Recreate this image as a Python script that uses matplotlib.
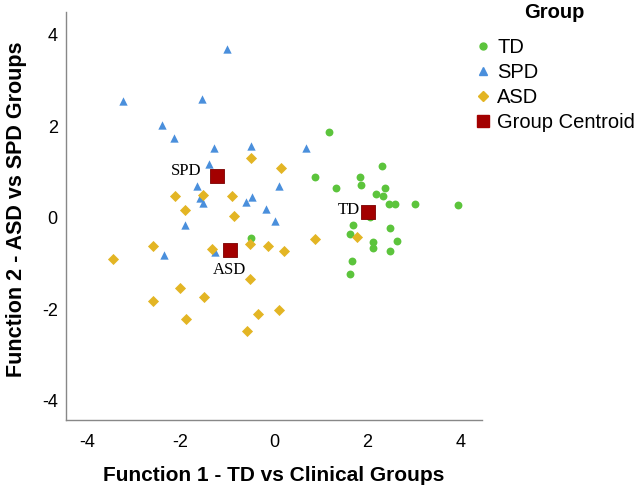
import numpy as np
import matplotlib
matplotlib.use('Agg')
import matplotlib.pyplot as plt
from matplotlib.lines import Line2D

# discriminant function scores
td_x = [1.18, 2.31, 0.87, 1.83, 1.87, 1.33, 2.37, 2.18, 2.34, 2.45, 2.59, 3.02,
        3.93, 2.06, 1.69, 2.48, 1.62, 2.12, 2.11, 2.63, 2.48, 1.66, 1.63, -0.49]
td_y = [1.87, 1.12, 0.88, 0.88, 0.72, 0.64, 0.65, 0.52, 0.47, 0.29, 0.29, 0.29,
        0.27, 0.02, -0.17, -0.23, -0.35, -0.54, -0.66, -0.52, -0.73, -0.95, -1.24, -0.45]

spd_x = [-1.01, -3.22, -1.54, -2.40, -2.13, -1.29, -0.50, -1.38, -1.65, 0.10,
         -1.51, -0.47, -0.60, -0.18, 0.02, -1.90, -2.36, -1.26, 0.68, -1.58]
spd_y = [3.68, 2.54, 2.60, 2.02, 1.74, 1.53, 1.57, 1.18, 0.70, 0.70,
         0.31, 0.45, 0.34, 0.19, -0.07, -0.17, -0.82, -0.75, 1.53, 0.42]

asd_x = [-0.50, 0.16, -2.11, -1.51, -0.90, -1.90, -0.85, -2.59, -3.44, -1.33, -0.52, -0.12,
         0.21, 0.88, 1.77, 0.10, -0.52, -2.02, -1.49, -2.58, -1.88, -0.35, -0.58]
asd_y = [1.31, 1.08, 0.47, 0.49, 0.47, 0.17, 0.04, -0.61, -0.91, -0.69, -0.57, -0.61,
         -0.73, -0.47, -0.42, -2.02, -1.34, -1.53, -1.74, -1.82, -2.22, -2.11, -2.47]

centroid_names = ['SPD', 'TD', 'ASD']
centroid_x = [-1.22, 2.01, -0.95]
centroid_y = [0.90, 0.13, -0.71]

c_td = '#5cc43c'
c_spd = '#4a8fdc'
c_asd = '#e3b524'
c_cen = '#a30000'

plt.rcParams['font.family'] = ['Liberation Sans', 'DejaVu Sans']
plt.rcParams['axes.unicode_minus'] = False

fig = plt.figure(figsize=(6.38, 4.92), dpi=100)
ax = fig.add_axes([0.1034, 0.1463, 0.6521, 0.83])

ax.scatter(td_x, td_y, s=32, marker='o', color=c_td, linewidths=0, zorder=3)
ax.scatter(spd_x, spd_y, s=36, marker='^', color=c_spd, linewidths=0, zorder=3)
ax.scatter(asd_x, asd_y, s=32, marker='D', color=c_asd, linewidths=0, zorder=3)
ax.scatter(centroid_x, centroid_y, s=110, marker='s', color=c_cen,
           edgecolors='#7a0000', linewidths=0.6, zorder=4)

# centroid labels (offsets in points)
offsets = {'SPD': (-11, 4, 'right', 'center'),
           'TD': (-6, 1, 'right', 'center'),
           'ASD': (0, -14, 'center', 'center')}
for name, cx, cy in zip(centroid_names, centroid_x, centroid_y):
    dx, dy, ha, va = offsets[name]
    ax.annotate(name, (cx, cy), xytext=(dx, dy), textcoords='offset points',
                ha=ha, va=va, fontsize=12, family='Liberation Serif', zorder=5)

ax.set_xlim(-4.45, 4.45)
ax.set_ylim(-4.42, 4.5)
ax.set_xticks([-4, -2, 0, 2, 4])
ax.set_yticks([-4, -2, 0, 2, 4])
ax.tick_params(axis='x', length=0, labelsize=13, pad=10)
ax.tick_params(axis='y', length=0, labelsize=13, pad=6)
for side in ['top', 'right']:
    ax.spines[side].set_visible(False)
for side in ['left', 'bottom']:
    ax.spines[side].set_color('#888888')
    ax.spines[side].set_linewidth(1.0)

ax.set_xlabel('Function 1 - TD vs Clinical Groups', fontsize=15, fontweight='bold', labelpad=11)
ax.set_ylabel('Function 2 - ASD vs SPD Groups', fontsize=15.5, fontweight='bold')
ax.yaxis.set_label_coords(-0.094, 0.515)

handles = [
    Line2D([], [], linestyle='none', marker='o', color=c_td, markersize=5),
    Line2D([], [], linestyle='none', marker='^', color=c_spd, markersize=5.5),
    Line2D([], [], linestyle='none', marker='D', color=c_asd, markersize=5),
    Line2D([], [], linestyle='none', marker='s', color=c_cen, markersize=9),
]
fig.text(554 / 638, 1 - 12 / 492, 'Group', ha='center', va='center',
         fontsize=14.5, fontweight='bold')
leg = fig.legend(handles, ['TD', 'SPD', 'ASD', 'Group Centroid'],
                 loc='upper left', bbox_to_anchor=(0.732, 0.939), frameon=False,
                 borderaxespad=0, borderpad=0.4, fontsize=14.5,
                 handlelength=0.8, handletextpad=0.3, labelspacing=0.29)

fig.savefig('out.png', dpi=100)
